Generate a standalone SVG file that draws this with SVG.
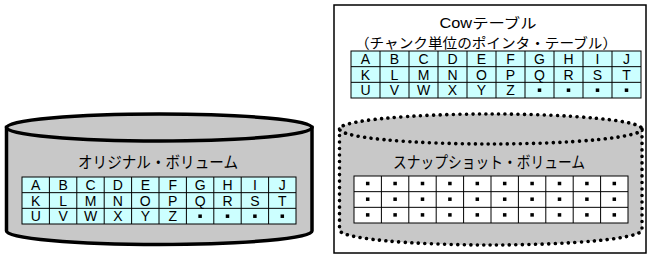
<svg xmlns="http://www.w3.org/2000/svg" width="652" height="260" viewBox="0 0 652 260">
<style>
.cyl{fill:#c8c8c8;stroke:#000;stroke-width:3.5}
.dot{fill:#c8c8c8;stroke:#000;stroke-width:3.6;stroke-dasharray:0.01 6.5;stroke-linecap:round}
.cell{fill:#ccffff;stroke:#000;stroke-width:1}
.wcell{fill:#ffffff;stroke:#000;stroke-width:1}
.ln{stroke:#000;stroke-width:1}
.lbl{font-family:"Noto Sans CJK JP",sans-serif;font-size:16px;fill:#000;text-anchor:middle}
.ttl{font-family:"Noto Sans CJK JP",sans-serif;font-size:14px;fill:#000;text-anchor:middle}
.ch{font-family:"Liberation Sans","Noto Sans CJK JP",sans-serif;font-size:14px;fill:#000;text-anchor:middle}
.sq{fill:#000}
</style>
<defs>
<rect id="sq" x="-1.75" y="-1.75" width="3.5" height="3.5"/>
</defs>
<rect width="652" height="260" fill="#fff"/>
<g id="connectors"></g>

<g id="original-volume">
<path class="cyl" d="M6.5,127.5 L6.5,231 A152.75,13.5 0 0 0 312,231 L312,127.5 Z"/>
<ellipse class="cyl" cx="159.25" cy="127.5" rx="152.75" ry="13.5"/>
<text class="lbl" x="158" y="168" textLength="160" lengthAdjust="spacingAndGlyphs">オリジナル・ボリューム</text>
<rect class="cell" x="22" y="177" width="274" height="47"/>
<g class="ln">
<line x1="22" y1="192.67" x2="296" y2="192.67"/><line x1="22" y1="208.33" x2="296" y2="208.33"/>
<line x1="49.4" y1="177" x2="49.4" y2="224"/><line x1="76.8" y1="177" x2="76.8" y2="224"/>
<line x1="104.2" y1="177" x2="104.2" y2="224"/><line x1="131.6" y1="177" x2="131.6" y2="224"/>
<line x1="159" y1="177" x2="159" y2="224"/><line x1="186.4" y1="177" x2="186.4" y2="224"/>
<line x1="213.8" y1="177" x2="213.8" y2="224"/><line x1="241.2" y1="177" x2="241.2" y2="224"/>
<line x1="268.6" y1="177" x2="268.6" y2="224"/>
</g>
<g class="ch">
<text x="35.7" y="189.8">A</text><text x="63.1" y="189.8">B</text><text x="90.5" y="189.8">C</text><text x="117.9" y="189.8">D</text><text x="145.3" y="189.8">E</text><text x="172.7" y="189.8">F</text><text x="200.1" y="189.8">G</text><text x="227.5" y="189.8">H</text><text x="254.9" y="189.8">I</text><text x="282.3" y="189.8">J</text>
<text x="35.7" y="205.5">K</text><text x="63.1" y="205.5">L</text><text x="90.5" y="205.5">M</text><text x="117.9" y="205.5">N</text><text x="145.3" y="205.5">O</text><text x="172.7" y="205.5">P</text><text x="200.1" y="205.5">Q</text><text x="227.5" y="205.5">R</text><text x="254.9" y="205.5">S</text><text x="282.3" y="205.5">T</text>
<text x="35.7" y="221.2">U</text><text x="63.1" y="221.2">V</text><text x="90.5" y="221.2">W</text><text x="117.9" y="221.2">X</text><text x="145.3" y="221.2">Y</text><text x="172.7" y="221.2">Z</text>
</g>
<g class="sq">
<use href="#sq" x="200.1" y="216.2"/><use href="#sq" x="227.5" y="216.2"/><use href="#sq" x="254.9" y="216.2"/><use href="#sq" x="282.3" y="216.2"/>
</g>
</g>

<g id="cow-table">
<rect x="334" y="5" width="312" height="248" fill="#fff" stroke="#000" stroke-width="1.5"/>
<text class="ttl" x="488" y="27.5" textLength="97" lengthAdjust="spacingAndGlyphs" style="font-family:'Liberation Sans','Noto Sans CJK JP',sans-serif">Cowテーブル</text>
<text class="ttl" x="486" y="47.8" textLength="262" lengthAdjust="spacingAndGlyphs">（チャンク単位のポインタ・テーブル）</text>
<rect class="cell" x="351" y="51" width="290" height="47"/>
<g class="ln">
<line x1="351" y1="66.67" x2="641" y2="66.67"/><line x1="351" y1="82.33" x2="641" y2="82.33"/>
<line x1="380" y1="51" x2="380" y2="98"/><line x1="409" y1="51" x2="409" y2="98"/>
<line x1="438" y1="51" x2="438" y2="98"/><line x1="467" y1="51" x2="467" y2="98"/>
<line x1="496" y1="51" x2="496" y2="98"/><line x1="525" y1="51" x2="525" y2="98"/>
<line x1="554" y1="51" x2="554" y2="98"/><line x1="583" y1="51" x2="583" y2="98"/>
<line x1="612" y1="51" x2="612" y2="98"/>
</g>
<g class="ch">
<text x="365.5" y="63.8">A</text><text x="394.5" y="63.8">B</text><text x="423.5" y="63.8">C</text><text x="452.5" y="63.8">D</text><text x="481.5" y="63.8">E</text><text x="510.5" y="63.8">F</text><text x="539.5" y="63.8">G</text><text x="568.5" y="63.8">H</text><text x="597.5" y="63.8">I</text><text x="626.5" y="63.8">J</text>
<text x="365.5" y="79.5">K</text><text x="394.5" y="79.5">L</text><text x="423.5" y="79.5">M</text><text x="452.5" y="79.5">N</text><text x="481.5" y="79.5">O</text><text x="510.5" y="79.5">P</text><text x="539.5" y="79.5">Q</text><text x="568.5" y="79.5">R</text><text x="597.5" y="79.5">S</text><text x="626.5" y="79.5">T</text>
<text x="365.5" y="95.2">U</text><text x="394.5" y="95.2">V</text><text x="423.5" y="95.2">W</text><text x="452.5" y="95.2">X</text><text x="481.5" y="95.2">Y</text><text x="510.5" y="95.2">Z</text>
</g>
<g class="sq">
<use href="#sq" x="539.5" y="90.2"/><use href="#sq" x="568.5" y="90.2"/><use href="#sq" x="597.5" y="90.2"/><use href="#sq" x="626.5" y="90.2"/>
</g>
</g>

<g id="snapshot-volume">
<path class="dot" d="M339.5,129 L339.5,230 A151.25,15 0 0 0 642,230 L642,129" />
<ellipse class="dot" cx="490.75" cy="129" rx="151.25" ry="15"/>
<text class="lbl" x="489" y="168" textLength="192" lengthAdjust="spacingAndGlyphs">スナップショット・ボリューム</text>
<rect class="wcell" x="354" y="176" width="274" height="47"/>
<g class="ln">
<line x1="354" y1="191.67" x2="628" y2="191.67"/><line x1="354" y1="207.33" x2="628" y2="207.33"/>
<line x1="381.4" y1="176" x2="381.4" y2="223"/><line x1="408.8" y1="176" x2="408.8" y2="223"/>
<line x1="436.2" y1="176" x2="436.2" y2="223"/><line x1="463.6" y1="176" x2="463.6" y2="223"/>
<line x1="491" y1="176" x2="491" y2="223"/><line x1="518.4" y1="176" x2="518.4" y2="223"/>
<line x1="545.8" y1="176" x2="545.8" y2="223"/><line x1="573.2" y1="176" x2="573.2" y2="223"/>
<line x1="600.6" y1="176" x2="600.6" y2="223"/>
</g>
<g class="sq">
<use href="#sq" x="367.7" y="183.5"/><use href="#sq" x="395.1" y="183.5"/><use href="#sq" x="422.5" y="183.5"/><use href="#sq" x="449.9" y="183.5"/><use href="#sq" x="477.3" y="183.5"/><use href="#sq" x="504.7" y="183.5"/><use href="#sq" x="532.1" y="183.5"/><use href="#sq" x="559.5" y="183.5"/><use href="#sq" x="586.9" y="183.5"/><use href="#sq" x="614.3" y="183.5"/>
<use href="#sq" x="367.7" y="199.2"/><use href="#sq" x="395.1" y="199.2"/><use href="#sq" x="422.5" y="199.2"/><use href="#sq" x="449.9" y="199.2"/><use href="#sq" x="477.3" y="199.2"/><use href="#sq" x="504.7" y="199.2"/><use href="#sq" x="532.1" y="199.2"/><use href="#sq" x="559.5" y="199.2"/><use href="#sq" x="586.9" y="199.2"/><use href="#sq" x="614.3" y="199.2"/>
<use href="#sq" x="367.7" y="214.9"/><use href="#sq" x="395.1" y="214.9"/><use href="#sq" x="422.5" y="214.9"/><use href="#sq" x="449.9" y="214.9"/><use href="#sq" x="477.3" y="214.9"/><use href="#sq" x="504.7" y="214.9"/><use href="#sq" x="532.1" y="214.9"/><use href="#sq" x="559.5" y="214.9"/><use href="#sq" x="586.9" y="214.9"/><use href="#sq" x="614.3" y="214.9"/>
</g>
</g>
</svg>
